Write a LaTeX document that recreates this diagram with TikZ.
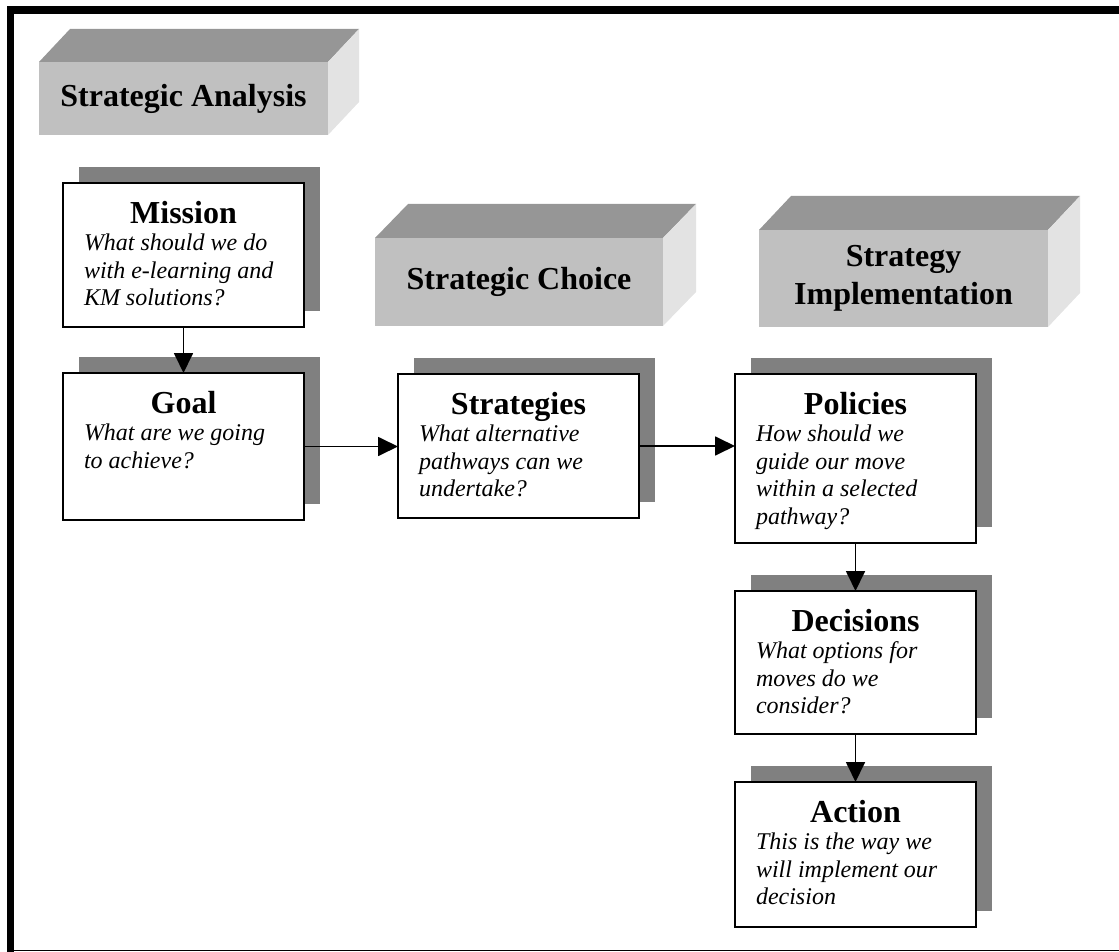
\documentclass[tikz,border=0pt]{standalone}
\usepackage{fontspec}
\setmainfont{Liberation Serif}
\usetikzlibrary{arrows.meta}
\pgfdeclarelayer{background}
\pgfsetlayers{background,main}
\definecolor{shadowgray}{HTML}{808080}
\definecolor{frontgray}{HTML}{C0C0C0}
\definecolor{topgray}{HTML}{969696}
\definecolor{sidegray}{HTML}{E3E3E3}
\newcommand{\myboxtext}[3]{\parbox[t][#1][t]{241pt}{%
{\centering\rule{0pt}{40pt}\fontsize{32}{36}\selectfont\bfseries #2\par}%
{\raggedright\leftskip=21pt\fontsize{24}{27.5}\selectfont\itshape #3\par}}}
\tikzset{
  stepbox/.style={draw=black, line width=2pt, fill=white, inner sep=0pt, outer sep=0pt, anchor=north west},
  flow/.style={line width=1.8pt, -{Triangle[length=20pt,width=19pt]}},
  face/.style={fill=frontgray, inner sep=0pt, outer sep=0pt, anchor=north west,
    font=\fontsize{32}{38}\selectfont\bfseries, align=center},
  topface/.style={fill=topgray},
  sideface/.style={fill=sidegray},
}
\begin{document}
\begin{tikzpicture}[x=1pt,y=-1pt]
\useasboundingbox (0,0) rectangle (1119,952);
% frame
\fill[black] (7,6) rectangle (1119,14);
\fill[black] (7,6) rectangle (14,952);
\draw[line width=1.5pt] (14,950.5) -- (1119,950.5);

% 3D header boxes
\node[face, minimum width=289pt, minimum height=73pt] (sa) at (39,62) {Strategic Analysis};
\fill[topface] (sa.north west) -- ++(31,-33) -- ([shift={(31,-33)}]sa.north east) -- (sa.north east) -- cycle;
\fill[sideface] (sa.north east) -- ++(31,-33) -- ([shift={(31,-33)}]sa.south east) -- (sa.south east) -- cycle;

\node[face, minimum width=288pt, minimum height=88pt] (sc) at (375,238) {Strategic Choice};
\fill[topface] (sc.north west) -- ++(33,-34) -- ([shift={(33,-34)}]sc.north east) -- (sc.north east) -- cycle;
\fill[sideface] (sc.north east) -- ++(33,-34) -- ([shift={(33,-34)}]sc.south east) -- (sc.south east) -- cycle;

\node[face, minimum width=289pt, minimum height=97pt] (si) at (759,230) {Strategy\\Implementation};
\fill[topface] (si.north west) -- ++(32,-34) -- ([shift={(32,-34)}]si.north east) -- (si.north east) -- cycle;
\fill[sideface] (si.north east) -- ++(32,-34) -- ([shift={(32,-34)}]si.south east) -- (si.south east) -- cycle;

% step boxes
\node[stepbox] (mission) at (63,183) {\myboxtext{144pt}{Mission}{What should we do\\with e-learning and\\KM solutions?}};
\node[stepbox] (goal) at (63,373) {\myboxtext{147pt}{Goal}{What are we going\\to achieve?}};
\node[stepbox] (strategies) at (398,374) {\myboxtext{144pt}{Strategies}{What alternative\\pathways can we\\undertake?}};
\node[stepbox] (policies) at (735,374) {\myboxtext{169pt}{Policies}{How should we\\guide our move\\within a selected\\pathway?}};
\node[stepbox] (decisions) at (735,591) {\myboxtext{143pt}{Decisions}{What options for\\moves do we\\consider?}};
\node[stepbox] (action) at (735,782) {\myboxtext{145pt}{Action}{This is the way we\\will implement our\\decision}};

\begin{pgfonlayer}{background}
\foreach \n in {mission,goal,strategies,policies,decisions,action}
  \fill[shadowgray] ([shift={(16,-16)}]\n.south west) rectangle ([shift={(16,-16)}]\n.north east);
\end{pgfonlayer}

% connectors
\draw[flow] (mission.south) -- (goal.north);
\draw[flow] (goal.east) -- (goal.east -| strategies.west);
\draw[flow] (strategies.east) -- (strategies.east -| policies.west);
\draw[flow] (policies.south) -- (decisions.north);
\draw[flow] (decisions.south) -- (action.north);
\end{tikzpicture}
\end{document}
